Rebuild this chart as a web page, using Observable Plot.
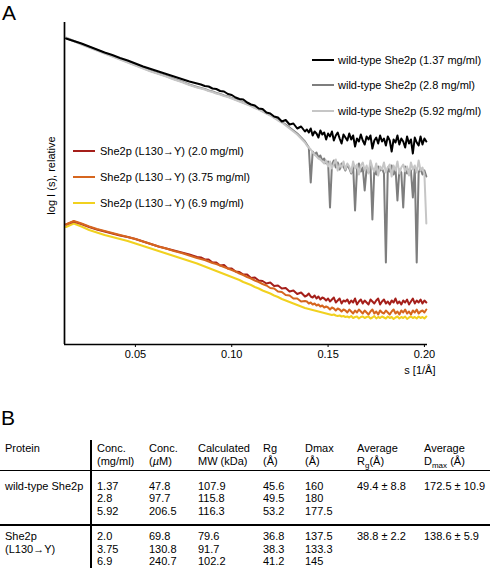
<!DOCTYPE html>
<html>
<head>
<meta charset="utf-8">
<script src="https://cdn.jsdelivr.net/npm/d3@7"></script>
<script src="https://cdn.jsdelivr.net/npm/@observablehq/plot@0.6"></script>
<style>
  html, body { margin: 0; padding: 0; background: #fff; }
  #fig { position: relative; width: 490px; height: 570px; font-family: "Liberation Sans", Arial, Helvetica, sans-serif; color: #000; overflow: hidden; }
  .abs { position: absolute; }
  .panel { position: absolute; font-size: 21px; line-height: 21px; }
  .legend { position: absolute; font-size: 11px; }
  .legrow { display: flex; align-items: center; white-space: nowrap; }
  .sw { height: 2px; width: 22px; }
  .cell { position: absolute; font-size: 11px; white-space: nowrap; }
  .cell sub { font-size: 8px; line-height: 0; }
</style>
</head>
<body>
<div id="fig">
  <div id="plot" class="abs" style="left:0;top:0"></div>
  <div class="panel" style="left:2px;top:2px">A</div>
  <div class="panel" style="left:1px;top:407px">B</div>
</div>
<script>
// ---------- Panel A data (log I, arbitrary relative units) ----------
const sGrid = [0.014,0.018,0.022,0.026,0.030,0.034,0.038,0.042,0.046,0.050,0.054,0.058,0.062,0.066,0.070,0.074,0.078,0.082,
  0.084,0.086,0.088,0.090,0.092,0.094,0.096,0.098,0.100,
  0.102,0.104,0.106,0.108,0.110,
  0.112,0.114,0.116,0.118,0.120,
  0.122,0.124,0.126,0.128,0.130,
  0.132,0.134,0.136,0.138,
  0.139,0.140,0.141,0.142,0.143,0.144,0.145,0.146,0.147,0.148,
  0.149,0.150,0.151,0.152,0.153,0.154,0.155,0.156,0.157,0.158,
  0.159,0.160,0.161,0.162,0.163,0.164,0.165,0.166,0.167,0.168,
  0.169,0.170,0.171,0.172,0.173,0.174,0.175,0.176,0.177,0.178,
  0.179,0.180,0.181,0.182,0.183,0.184,0.185,0.186,0.187,0.188,
  0.189,0.190,0.191,0.192,0.193,0.194,0.195,0.196,0.197,0.198,
  0.199,0.200,0.201];

const wt137 = [306,303.5,301,298,295,292,289.5,286.5,284,281,278,275.5,273,270.5,268,265.5,263,261,
  260,258.5,258,256,255.5,253.5,253,250.5,249.5,
  247,245.5,245,242,240,
  239,236,235.5,232,231,
  228,227,223,224.5,220,
  221,216,218,213,
  215,212,216,209,213,211,207,214,210,212,
  205,211,208,213,204,209,212,206,201,210,
  207,204,211,205,209,198,206,203,210,204,
  200,208,205,209,196,204,207,201,209,203,
  206,199,208,204,193,205,202,209,200,206,
  203,197,208,201,205,191,207,202,199,208,
  200,206,203];

const wt28 = [306.5,303.5,300.5,297.5,294.5,291.5,288.5,285.5,282.5,279.5,276.5,273.5,271,268.5,265.5,263,260,257.5,
  256.5,255.5,254,253,251.5,250.5,249,248,246.5,
  245,243.5,242,240.5,239,
  237,235.5,233.5,231.5,229.5,
  227,225,222.5,220,217,
  214,211,207,203,
  200,197,162,193,190,192,187,189,184,186,
  181,183,137,180,184,177,182,175,181,178,
  174,180,176,171,179,134,175,181,173,177,
  154,176,172,179,125,175,170,178,174,176,
  171,82,177,173,179,170,176,144,175,172,
  137,178,171,175,174,147,177,82,172,176,
  170,174,168];

const wt592 = [307,303.5,300,297,294,291,288,285,282,279,276,273,270.5,268,265,262.5,259.5,257,
  256,255,253.5,252.5,251,250,248.5,247.5,246,
  244.5,243,241.5,240,238.5,
  236.5,235,233,231,229,
  226.5,224,222,219,216,
  213,210,206,202,
  199,197,195,192,190,188,186,185,183,181,
  184,178,183,176,181,185,174,180,177,183,
  175,181,178,172,183,176,180,170,179,182,
  174,179,171,184,177,173,181,169,178,175,
  182,172,177,180,168,179,174,183,171,177,
  180,173,178,169,182,175,179,172,184,174,
  177,170,121];

const mut20 = [120,123,120.5,117.5,115,113,111,109,107.5,105.5,103,100.5,98,96,94,92,90,87.5,
  87,85,85,82,82,79,79.5,76,76,
  73,72.5,70,70,66.5,
  67,64,63.5,61,62,
  58.5,59,56,56.5,53,
  54,50.5,52,48,
  49,51,48,47,49,46,48,45,47,46,
  44,46,43,45,47,42,44,46,41,44,
  43,45,41,44,42,46,40,43,45,41,
  44,42,40,45,43,41,44,46,40,43,
  45,41,43,40,44,42,46,41,43,40,
  44,42,45,40,43,46,41,44,42,45,
  41,44,42];

const mut375 = [120,123.5,121,118,115.5,113.5,111.5,109.5,107.5,105.5,103,100.5,98,96,93.5,91.5,89,86.5,
  85.5,84.5,83,81.5,80.5,79,77.5,76,74.5,
  73,71,69.5,67.5,66,
  64,62.5,60.5,59,56.5,
  56,53,52.5,49.5,49,
  46,46,43,43.5,
  43,41,42,40,41,39,40,38,39,37,
  38,37,35,37,36,34,36,35,33,35,
  34,32,35,33,31,34,32,35,33,31,
  34,32,30,33,35,31,33,30,34,32,
  31,34,32,30,33,35,31,33,30,34,
  32,35,31,33,30,34,32,35,31,33,
  34,32,35];

const mut69 = [117.5,121,118,114.5,112,109.5,107.5,105.5,103.5,101,98.5,96,93.5,91,88.5,86,83.5,81,
  79.5,78,76.5,75,73.5,72,70.5,69,67.5,
  66,64.5,62.5,61,59.5,
  57.5,56,54,52.5,51,
  49,47.5,45.5,44,42.5,
  41,39.5,38,36.5,
  36,35.5,35,34.5,34,33.5,33,32.5,32,31.5,
  31,30.5,30,29.5,30,29,28.5,29,28,28.5,
  27.5,28,27,28.5,26.5,27.5,28,26,27.5,28,
  26.5,27.5,28,26,27,28.5,26,27.5,26.5,28,
  27,26,28,26.5,27.5,25.5,27,28,26,27.5,
  26.5,28,25.5,27,28,26.5,27.5,26,28,26.5,
  27.5,26,28];

const seriesNames = [
  "wild-type She2p (1.37 mg/ml)",
  "wild-type She2p (2.8 mg/ml)",
  "wild-type She2p (5.92 mg/ml)",
  "She2p (L130\u2192Y) (2.0 mg/ml)",
  "She2p (L130\u2192Y) (3.75 mg/ml)",
  "She2p (L130\u2192Y) (6.9 mg/ml)"
];
const seriesValues = [wt137, wt28, wt592, mut20, mut375, mut69];
const seriesColors = ["#000000", "#7e7e7e", "#c6c6c6", "#a51f1a", "#d6661f", "#f1d11f"];
const drawOrder = [5, 3, 4, 1, 2, 0];

const xTicks = [0.05, 0.10, 0.15, 0.20];
const xDomain = [0.0132, 0.2016];
const yDomain = [0, 322];
const xLabel = "s [1/\u00c5]";
const yLabel = "log I (s), relative";

// ---------- Panel B data ----------
const tableHeaders = [
  ["Protein"],
  ["Conc.", "(mg/ml)"],
  ["Conc.", "(<i>\u00b5</i>M)"],
  ["Calculated", "MW (kDa)"],
  ["Rg", "(\u00c5)"],
  ["Dmax", "(\u00c5)"],
  ["Average", "R<sub>g</sub>(\u00c5)"],
  ["Average", "D<sub>max</sub> (\u00c5)"]
];
const proteins = [["wild-type She2p"], ["She2p", "(L130\u2192Y)"]];
const concMg = [["1.37", "2.8", "5.92"], ["2.0", "3.75", "6.9"]];
const concUM = [["47.8", "97.7", "206.5"], ["69.8", "130.8", "240.7"]];
const mwKDa = [["107.9", "115.8", "116.3"], ["79.6", "91.7", "102.2"]];
const rg = [["45.6", "49.5", "53.2"], ["36.8", "38.3", "41.2"]];
const dmax = [["160", "180", "177.5"], ["137.5", "133.3", "145"]];
const avgRg = [["49.4 \u00b1 8.8"], ["38.8 \u00b1 2.2"]];
const avgDmax = [["172.5 \u00b1 10.9"], ["138.6 \u00b1 5.9"]];

// ---------- checks ----------
seriesValues.forEach((v, i) => { if (v.length !== sGrid.length) throw new Error("length mismatch series " + i + ": " + v.length + " vs " + sGrid.length); });

// ---------- Panel A plot ----------
const fontFamily = '"Liberation Sans", Arial, Helvetica, sans-serif';
const lineMarks = drawOrder.map(i => {
  const rows = sGrid.map((s, k) => ({s, v: seriesValues[i][k]}));
  return Plot.line(rows, {x: "s", y: "v", stroke: seriesColors[i], strokeWidth: 2, strokeLinejoin: "round"});
});

const chart = Plot.plot({
  width: 490,
  height: 390,
  marginLeft: 64,
  marginRight: 63,
  marginTop: 22,
  marginBottom: 46,
  x: {domain: xDomain},
  y: {domain: yDomain, axis: null},
  style: {fontFamily, fontSize: "11px", color: "#000", background: "transparent", overflow: "visible"},
  marks: [
    ...lineMarks,
    Plot.ruleX([xDomain[0]], {stroke: "#000", strokeWidth: 1.7}),
    Plot.ruleY([yDomain[0]], {stroke: "#000", strokeWidth: 1.7}),
    Plot.axisX({ticks: xTicks, tickFormat: d3.format(".2f"), tickSize: 3, tickPadding: 3, label: null, fontSize: 11}),
    Plot.text([xLabel], {text: d => d, frameAnchor: "bottom-right", dx: 8, dy: 29, textAnchor: "end", fontSize: 11}),
    Plot.text([yLabel], {text: d => d, frameAnchor: "left", rotate: -90, textAnchor: "middle", dx: -13, dy: -8, fontSize: 11})
  ]
});
document.getElementById("plot").appendChild(chart);

// ---------- Legends ----------
const fig = document.getElementById("fig");
function legend(idx, left, top, rowH, gap) {
  const box = document.createElement("div");
  box.className = "legend";
  box.style.left = left + "px";
  box.style.top = top + "px";
  idx.forEach(i => {
    const row = document.createElement("div");
    row.className = "legrow";
    row.style.height = rowH + "px";
    const sw = document.createElement("div");
    sw.className = "sw";
    sw.style.background = seriesColors[i];
    sw.style.marginRight = gap + "px";
    const t = document.createElement("span");
    t.textContent = seriesNames[i];
    row.appendChild(sw); row.appendChild(t);
    box.appendChild(row);
  });
  fig.appendChild(box);
}
legend([0, 1, 2], 312, 46.75, 25.5, 4);
legend([3, 4, 5], 73, 138, 26, 5);

// ---------- Panel B table ----------
const colX = [5, 97, 149, 198, 263, 305, 357, 424];
function cell(lines, x, top, lh) {
  const d = document.createElement("div");
  d.className = "cell";
  d.style.left = x + "px";
  d.style.top = top + "px";
  d.style.lineHeight = lh + "px";
  d.innerHTML = lines.join("<br>");
  fig.appendChild(d);
}
tableHeaders.forEach((h, c) => cell(h, colX[c], 442, 13));
const blockTops = [479.8, 530.4];
[0, 1].forEach(r => {
  const cols = [proteins[r], concMg[r], concUM[r], mwKDa[r], rg[r], dmax[r], avgRg[r], avgDmax[r]];
  cols.forEach((lines, c) => cell(lines, colX[c], blockTops[r], 12.5));
});
function rule(left, top, w, h) {
  const d = document.createElement("div");
  d.className = "abs";
  Object.assign(d.style, {left: left + "px", top: top + "px", width: w + "px", height: h + "px", background: "#000"});
  fig.appendChild(d);
}
rule(90, 440, 1.6, 128);
rule(0, 470, 490, 1.4);
rule(0, 524.3, 490, 1.4);
</script>
</body>
</html>
